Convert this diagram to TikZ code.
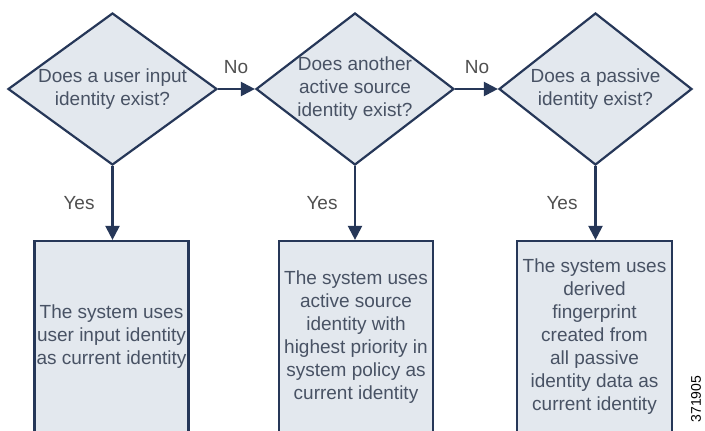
\documentclass[tikz,border=0pt]{standalone}
\usepackage{fontspec}
\setmainfont{Liberation Sans}
\usetikzlibrary{shapes.geometric,arrows.meta}
\definecolor{boxfill}{RGB}{227,232,238}
\definecolor{edge}{RGB}{38,55,88}
\definecolor{txt}{RGB}{72,82,100}
\definecolor{lbl}{RGB}{80,80,80}
\tikzset{
  dec/.style={shape=diamond, draw=edge, fill=boxfill, line width=2.2pt, inner sep=0pt, minimum height=152pt},
  qtext/.style={text=txt, align=center, font=\fontsize{19}{23}\selectfont, inner sep=0pt},
  resbox/.style={draw=edge, fill=boxfill, line width=2.2pt, minimum width=154pt, minimum height=192pt, inner sep=0pt,
    text=txt, align=center, font=\fontsize{19}{23}\selectfont},
  arr/.style={draw=edge, line width=2.2pt, -{Triangle[length=14pt,width=14pt]}},
  lab/.style={text=lbl, font=\fontsize{19}{23}\selectfont, inner sep=0pt},
}
\begin{document}
\begin{tikzpicture}[x=1pt,y=-1pt]
\useasboundingbox (0,0) rectangle (705,431);
\clip (0,0) rectangle (705,431);
\fill[white] (0,0) rectangle (705,431);
% decisions
\node[dec, minimum width=209pt] (d1) at (112.5,89) {};
\node[dec, minimum width=198pt] (d2) at (355,89) {};
\node[dec, minimum width=193pt] (d3) at (595.5,89) {};
\node[qtext] (t1) at (d1.center) {Does a user input\\identity exist?};
\node[qtext] (t2) at (d2.center) {Does another\\active source\\identity exist?};
\node[qtext] (t3) at (d3.center) {Does a passive\\identity exist?};
% results
\node[resbox] (b1) at (111.5,337) {The system uses\\user input identity\\as current identity};
\node[resbox] (b2) at (356,337) {The system uses\\active source\\identity with\\highest priority in\\system policy as\\current identity};
\node[resbox, minimum width=155pt] (b3) at (594.5,337) {The system uses\\derived\\fingerprint\\created from\\all passive\\identity data as\\current identity};
% connectors
\draw[arr] (d1.east) -- (d2.west);
\draw[arr] (d2.east) -- (d3.west);
\draw[arr] (d1.south) -- (d1.south |- b1.north);
\draw[arr] (d2.south) -- (d2.south |- b2.north);
\draw[arr] (d3.south) -- (d3.south |- b3.north);
% labels
\node[lab] (no1) at (236,67) {No};
\node[lab] (no2) at (477,67) {No};
\node[lab] (y1) at (79,203) {Yes};
\node[lab] (y2) at (322,203) {Yes};
\node[lab] (y3) at (562,203) {Yes};
\node[text=black, font=\fontsize{14}{16}\selectfont, rotate=90, inner sep=0pt] (id) at (696,399) {371905};
\end{tikzpicture}
\end{document}
